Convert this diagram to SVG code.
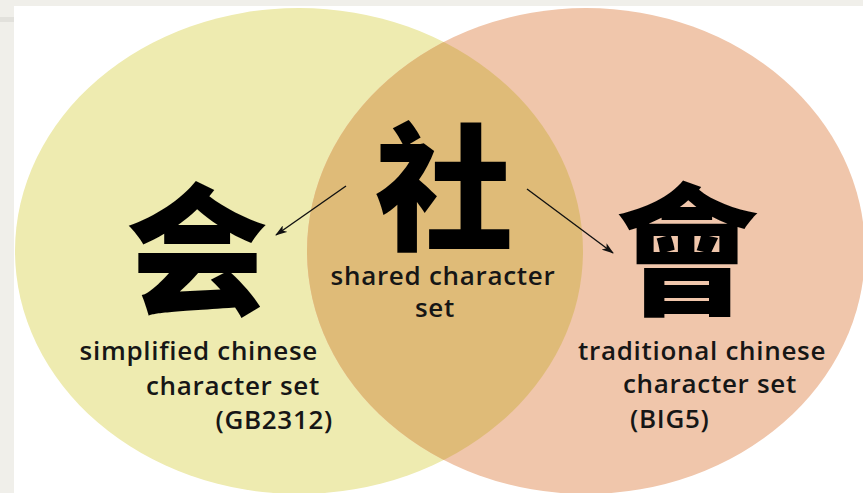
<svg xmlns="http://www.w3.org/2000/svg" width="863" height="493" viewBox="0 0 863 493">
<style>
.lbl{font-family:"Open Sans","Liberation Sans",sans-serif;font-size:26px;font-weight:600;letter-spacing:0.7px;fill:#161616;}
.han{font-family:"Noto Sans CJK SC","Noto Sans CJK TC",sans-serif;font-weight:900;fill:#000;text-anchor:middle;}
.conn{stroke:#111;stroke-width:1.4;fill:none;marker-end:url(#ah);}
</style>
<defs>
<marker id="ah" viewBox="0 0 12 8" refX="11" refY="4" markerWidth="12" markerHeight="8" markerUnits="userSpaceOnUse" orient="auto">
<path d="M0,0 L12,4 L0,8 L3,4 Z" fill="#111"/>
</marker>
<clipPath id="clipL"><ellipse cx="299" cy="251" rx="284" ry="243"/></clipPath>
</defs>
<rect x="0" y="0" width="863" height="493" fill="#f0efea"/>
<rect x="14" y="6" width="849" height="487" fill="#ffffff"/>
<rect x="0" y="17" width="14" height="5" fill="#e2e1dc"/>
<g id="simplified-set">
<ellipse cx="299" cy="251" rx="284" ry="243" fill="#eeebb0"/>
</g>
<g id="traditional-set">
<ellipse cx="586" cy="251" rx="279" ry="243" fill="#f0c6ab"/>
</g>
<g id="shared-set">
<ellipse cx="586" cy="251" rx="279" ry="243" fill="#dfbb78" clip-path="url(#clipL)"/>
<text class="han" x="444" y="239" font-size="138">社</text>
<text class="lbl" x="443" y="285" text-anchor="middle">shared character</text>
<text class="lbl" x="435" y="317" text-anchor="middle">set</text>
</g>
<g id="simplified">
<text class="han" x="197" y="304" font-size="142">会</text>
<text class="lbl" x="318" y="360" text-anchor="end">simplified chinese</text>
<text class="lbl" x="320" y="395" text-anchor="end">character set</text>
<text class="lbl" x="333" y="429" text-anchor="end">(GB2312)</text>
</g>
<g id="traditional">
<text class="han" x="687" y="304" font-size="142" style="font-family:'Noto Sans CJK TC','Noto Sans CJK SC',sans-serif">會</text>
<text class="lbl" x="578" y="360">traditional chinese</text>
<text class="lbl" x="623" y="393">character set</text>
<text class="lbl" x="630" y="428">(BIG5)</text>
</g>
<g id="connectors">
<line class="conn" x1="346" y1="186" x2="276" y2="235"/>
<line class="conn" x1="527" y1="189" x2="613" y2="253"/>
</g>
</svg>
